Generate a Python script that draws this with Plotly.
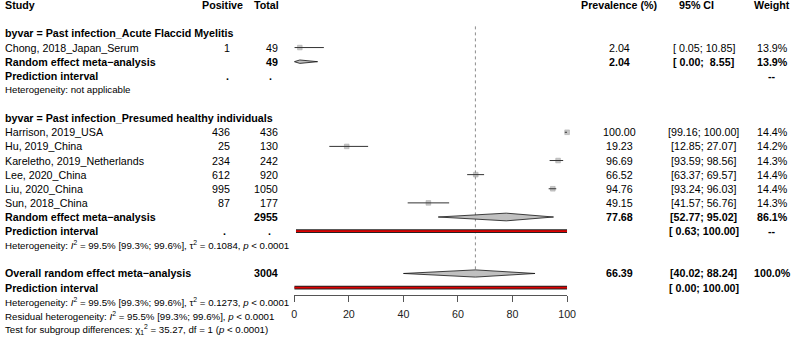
import plotly.graph_objects as go

# ---------------- data ----------------
group_names = ["Past infection_Acute Flaccid Myelitis",
               "Past infection_Presumed healthy individuals"]
studies = ["Chong, 2018_Japan_Serum", "Harrison, 2019_USA", "Hu, 2019_China",
           "Kareletho, 2019_Netherlands", "Lee, 2020_China", "Liu, 2020_China",
           "Sun, 2018_China"]
study_group = [0, 1, 1, 1, 1, 1, 1]
positive = [1, 436, 25, 234, 612, 995, 87]
total = [49, 436, 130, 242, 920, 1050, 177]
prevalence = [2.04, 100.00, 19.23, 96.69, 66.52, 94.76, 49.15]
ci_low = [0.05, 99.16, 12.85, 93.59, 63.37, 93.24, 41.57]
ci_high = [10.85, 100.00, 27.07, 98.56, 69.57, 96.03, 56.76]
weights = [13.9, 14.4, 14.2, 14.3, 14.4, 14.4, 14.3]

sub_total = [49, 2955]
sub_est = [2.04, 77.68]
sub_low = [0.00, 52.77]
sub_high = [8.55, 95.02]
sub_weight = [13.9, 86.1]
sub_pi_low = [None, 0.63]
sub_pi_high = [None, 100.00]
sub_het = ["Heterogeneity: not applicable",
           "Heterogeneity: <i>I</i><sup>2</sup> = 99.5% [99.3%; 99.6%], τ<sup>2</sup> = 0.1084, <i>p</i> < 0.0001"]

overall_total = 3004
overall_est = 66.39
overall_low = 40.02
overall_high = 88.24
overall_weight = 100.0
overall_pi = (0.00, 100.00)
overall_text = [
    "Heterogeneity: <i>I</i><sup>2</sup> = 99.5% [99.3%; 99.6%], τ<sup>2</sup> = 0.1273, <i>p</i> < 0.0001",
    "Residual heterogeneity: <i>I</i><sup>2</sup> = 95.5% [99.3%; 99.6%], <i>p</i> < 0.0001",
    "Test for subgroup differences: χ<sub>1</sub><sup>2</sup> = 35.27, df = 1 (<i>p</i> < 0.0001)",
]
x_ticks = [0, 20, 40, 60, 80, 100]

# ---------------- layout constants ----------------
W, H = 800, 338
ROW0, ROWPX = 5.2, 14.12
FONT = "Liberation Sans, Arial, Helvetica, sans-serif"
FS, FS_SMALL = 10.7, 9.7
X_STUDY, X_POS, X_TOT, X_PREV, X_CI, X_WT = 2, 230, 279, 625.5, 711.5, 781
SUB_DIA_HPX = [1.7, 3.85]   # half heights (px) of subgroup diamonds
ALL_DIA_HPX = 3.6

fig = go.Figure()
ann = []


def txt(xpx, row, text, anchor="left", bold=False, size=FS):
    if bold:
        text = "<b>" + text + "</b>"
    ann.append(dict(x=xpx / W, xref="paper", y=row, yref="y", text=text,
                    xanchor=anchor, yanchor="middle", showarrow=False,
                    borderpad=0, borderwidth=0,
                    font=dict(family=FONT, size=size, color="#000")))


def fmt_ci(lo, hi):
    return ("[" + f"{lo:5.2f}" + "; " + f"{hi:5.2f}" + "]").replace(" ", "\u00a0")


# headers
txt(X_STUDY, 0, "Study", bold=True)
txt(223, 0, "Positive", anchor="center", bold=True)
txt(280, 0, "Total", anchor="right", bold=True)
txt(625, 0, "Prevalence (%)", anchor="center", bold=True)
txt(703.7, 0, "95% CI", anchor="center", bold=True)
txt(781, 0, "Weight", anchor="center", bold=True)

ci_x, ci_y = [], []
sq_x, sq_y, sq_s = [], [], []
diamonds = []
pis = []

row = 2
for g, gname in enumerate(group_names):
    txt(X_STUDY, row, "byvar = " + gname, bold=True)
    row += 1
    for i, s in enumerate(studies):
        if study_group[i] != g:
            continue
        txt(X_STUDY, row, s)
        txt(X_POS, row, str(positive[i]), anchor="right")
        txt(X_TOT, row, str(total[i]), anchor="right")
        txt(X_PREV, row, f"{prevalence[i]:.2f}", anchor="center")
        txt(X_CI, row, fmt_ci(ci_low[i], ci_high[i]), anchor="center")
        txt(X_WT, row, f"{weights[i]:.1f}%", anchor="center")
        ci_x += [ci_low[i], ci_high[i], None]
        ci_y += [row, row, None]
        sq_x.append(prevalence[i]); sq_y.append(row)
        sq_s.append(4.6 * (weights[i] / 14.2) ** 0.5)
        row += 1
    # random effect
    txt(X_STUDY, row, "Random effect meta\u2212analysis", bold=True)
    txt(X_TOT, row, str(sub_total[g]), anchor="right", bold=True)
    txt(X_PREV, row, f"{sub_est[g]:.2f}", anchor="center", bold=True)
    txt(X_CI, row, fmt_ci(sub_low[g], sub_high[g]), anchor="center", bold=True)
    txt(X_WT, row, f"{sub_weight[g]:.1f}%", anchor="center", bold=True)
    diamonds.append((sub_low[g], sub_est[g], sub_high[g], row, SUB_DIA_HPX[g] / ROWPX))
    row += 1
    # prediction interval
    txt(X_STUDY, row, "Prediction interval", bold=True)
    if sub_pi_low[g] is None:
        txt(227.5, row, ".", anchor="center", bold=True)
        txt(272, row, ".", anchor="center", bold=True)
    else:
        txt(225, row, ".", anchor="center", bold=True)
        txt(271, row, ".", anchor="center", bold=True)
        txt(X_CI, row, fmt_ci(sub_pi_low[g], sub_pi_high[g]), anchor="center", bold=True)
        pis.append((sub_pi_low[g], sub_pi_high[g], row))
    txt(X_WT, row, "--", anchor="center", bold=True)
    row += 1
    txt(X_STUDY, row, sub_het[g], size=FS_SMALL)
    row += 2

# overall
overall_row = row
txt(X_STUDY, row, "Overall random effect meta\u2212analysis", bold=True)
txt(X_TOT, row, str(overall_total), anchor="right", bold=True)
txt(X_PREV, row, f"{overall_est:.2f}", anchor="center", bold=True)
txt(X_CI, row, fmt_ci(overall_low, overall_high), anchor="center", bold=True)
txt(X_WT, row, f"{overall_weight:.1f}%", anchor="center", bold=True)
diamonds.append((overall_low, overall_est, overall_high, row, ALL_DIA_HPX / ROWPX))
row += 1
txt(X_STUDY, row, "Prediction interval", bold=True)
txt(X_CI, row, fmt_ci(*overall_pi), anchor="center", bold=True)
pis.append((overall_pi[0], overall_pi[1], row))
row += 1
for t in overall_text:
    txt(X_STUDY, row, t, size=FS_SMALL)
    row += 1

# reference dotted line at overall estimate
fig.add_trace(go.Scatter(x=[overall_est, overall_est],
                         y=[1.5, overall_row + ALL_DIA_HPX / ROWPX],
                         mode="lines", line=dict(color="#8c8c8c", width=1, dash="dot"),
                         hoverinfo="skip", showlegend=False))

# squares
fig.add_trace(go.Scatter(x=sq_x, y=sq_y, mode="markers", cliponaxis=False,
                         marker=dict(symbol="square", size=sq_s, color="#b0b0b0",
                                     line=dict(color="#8a8a8a", width=0.6)),
                         hoverinfo="skip", showlegend=False))
# CI lines
fig.add_trace(go.Scatter(x=ci_x, y=ci_y, mode="lines", line=dict(color="#333333", width=1),
                         hoverinfo="skip", showlegend=False))

# diamonds
for lo, est, hi, r, h in diamonds:
    fig.add_trace(go.Scatter(x=[lo, est, hi, est, lo], y=[r, r - h, r, r + h, r],
                             mode="lines", fill="toself", fillcolor="#c0c0c0",
                             line=dict(color="#111111", width=0.8),
                             hoverinfo="skip", showlegend=False))

# prediction intervals
for lo, hi, r in pis:
    fig.add_trace(go.Scatter(x=[lo, hi], y=[r, r], mode="lines",
                             line=dict(color="#222222", width=3.6),
                             hoverinfo="skip", showlegend=False))
    fig.add_trace(go.Scatter(x=[lo, hi], y=[r, r], mode="lines",
                             line=dict(color="#e00000", width=1.8),
                             hoverinfo="skip", showlegend=False))

row_top = -ROW0 / ROWPX
row_bot = (H - ROW0) / ROWPX
axis_px = 295

fig.update_layout(
    width=W, height=H,
    margin=dict(l=0, r=0, t=0, b=0),
    paper_bgcolor="white", plot_bgcolor="white",
    annotations=ann,
    showlegend=False,
    xaxis=dict(domain=[295.7 / W, 572.7 / W], range=[0, 100],
               anchor="free", position=1 - axis_px / H,
               showgrid=False, zeroline=False, showline=True,
               linecolor="#555555", linewidth=1,
               ticks="outside", ticklen=6, tickcolor="#555555", tickwidth=1,
               tickvals=x_ticks, ticktext=[str(v) for v in x_ticks],
               tickfont=dict(family=FONT, size=FS, color="#222222"),
               ticklabelstandoff=3, fixedrange=True),
    yaxis=dict(domain=[0, 1], range=[row_bot, row_top], visible=False,
               showgrid=False, zeroline=False, fixedrange=True),
)

fig.write_html("out.html", config={"displayModeBar": False},
               post_script="document.body.style.margin='0';document.body.style.padding='0';")
